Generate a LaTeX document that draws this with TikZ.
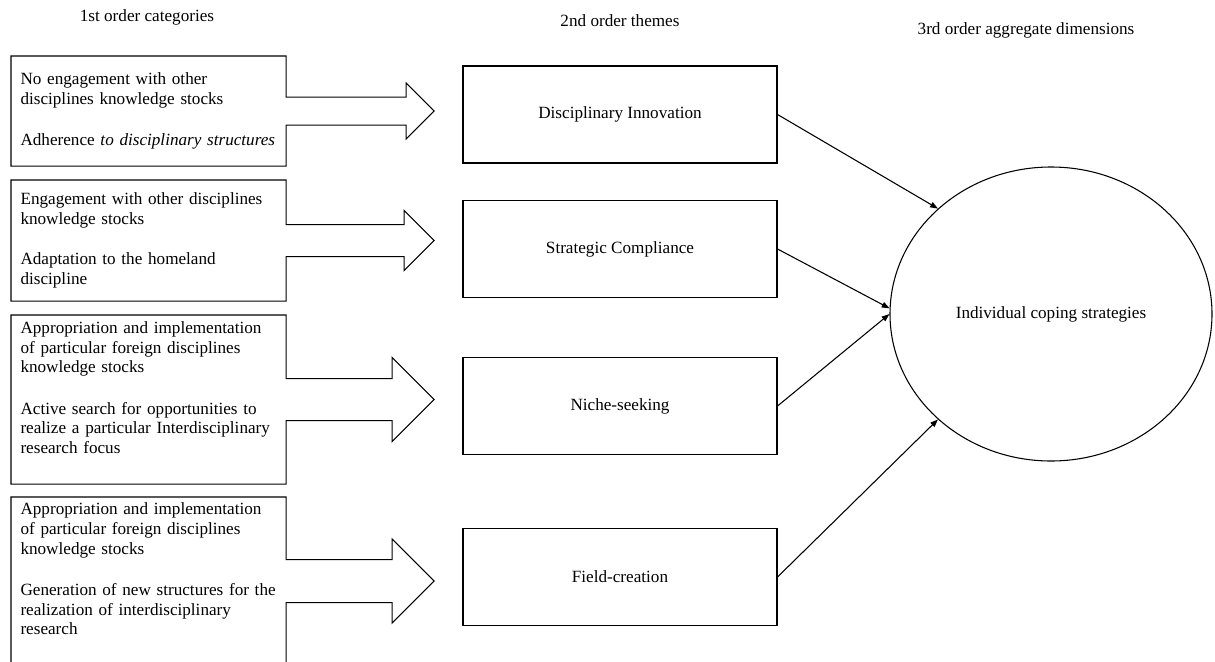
\documentclass[tikz,border=0pt]{standalone}
\usepackage{fontspec}
\setmainfont{Liberation Serif}
\usetikzlibrary{arrows.meta,calc,shapes.geometric}

% outline of a category box with its arrow: node, shaft half width, head half width
\newcommand{\catarrow}[3]{%
  \draw (#1.north west) -- (#1.north east) -- ($(#1.east)+(0,-#2)$)
    -- ++({148-#3},0) -- ++(0,{#2-#3}) -- ++(#3,#3) -- ++(-#3,#3)
    -- ++(0,{#2-#3}) -- ++({#3-148},0) -- (#1.south east)
    -- (#1.south west) -- cycle;}

\begin{document}
\begin{tikzpicture}[x=0.7pt, y=-0.7pt, line width=0.75pt,
  >={Triangle[length=5.5pt,width=4pt]},
  txt/.style={font=\fontsize{12pt}{13.8pt}\selectfont},
  cat/.style={txt, anchor=north west, text width=179.2pt, inner xsep=6.3pt,
    inner ysep=0pt, align=left},
  theme/.style={txt, draw, minimum width=219.8pt, minimum height=67.9pt},
  dim/.style={txt, draw, ellipse, minimum width=225.4pt, minimum height=205.8pt, inner sep=0pt},
  head/.style={txt, anchor=base}]

  \useasboundingbox (0,0) rectangle (1215,661);
  \clip (0,0) rectangle (1215,661);

  \node[head] (h1) at (147,21.7) {1st order categories};
  \node[head] (h2) at (620,26.7) {2nd order themes};
  \node[head] (h3) at (1026,34) {3rd order aggregate dimensions};

  \node[cat, minimum height=76.3pt] (c1) at (11,56)
    {No engagement with other\\disciplines knowledge stocks\\[15pt]
     Adherence \textit{to disciplinary structures}};
  \node[cat, minimum height=84pt] (c2) at (11,180)
    {Engagement with other disciplines\\knowledge stocks\\[14.5pt]
     Adaptation to the homeland\\discipline};
  \node[cat, minimum height=117.6pt] (c3) at (11,315)
    {Appropriation and implementation\\of particular foreign disciplines\\knowledge stocks\\[15pt]
     Active search for opportunities to\\realize a particular Interdisciplinary\\research focus\\[3pt]\mbox{}};
  \node[cat, minimum height=116.9pt] (c4) at (11,497)
    {Appropriation and implementation\\of particular foreign disciplines\\knowledge stocks\\[15pt]
     Generation of new structures for the\\realization of interdisciplinary\\research\\[3pt]\mbox{}};

  \catarrow{c1}{14}{28}
  \catarrow{c2}{16}{30}
  \catarrow{c3}{21}{42}
  \catarrow{c4}{21.5}{42}

  \node[theme] (t1) at (620,114.5) {Disciplinary Innovation};
  \node[theme] (t2) at (620,249) {Strategic Compliance};
  \node[theme] (t3) at (620,406) {Niche-seeking};
  \node[theme] (t4) at (620,577) {Field-creation};

  \node[dim] (ics) at (1051,314) {Individual coping strategies};

  \path[->]
  (t1.east) edge (ics.137)
  (t2.east) edge (ics.178)
  (t3.east) edge (ics.180)
  (t4.east) edge (ics.223);

\end{tikzpicture}
\end{document}
